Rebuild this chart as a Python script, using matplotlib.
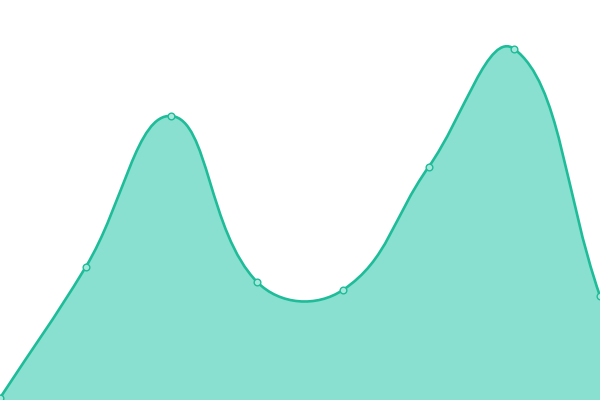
import matplotlib
matplotlib.use("Agg")
import matplotlib.pyplot as plt
import numpy as np
from matplotlib.path import Path
from matplotlib.patches import PathPatch

categories = ["A", "B", "C", "D", "E", "F", "G", "H"]
values = [2, 133, 284, 118, 110, 233, 351, 104]

W, H = 600, 400
fig = plt.figure(figsize=(6, 4), dpi=100)
ax = fig.add_axes([0, 0, 1, 1])
ymax = 400
xs = np.arange(len(values), dtype=float)
ax.set_xlim(0, len(values) - 1)
ax.set_ylim(0, ymax)
ax.axis("off")

# smooth bezier (echarts-like), computed in pixel space
sx = W / (len(values) - 1)
sy = H / ymax
P = np.column_stack([xs * sx, np.array(values, float) * sy])
smooth = 0.42
n = len(P)
cps = []
for i in range(n):
    prev = P[i - 1] if i > 0 else P[i]
    nxt = P[i + 1] if i < n - 1 else P[i]
    v = (nxt - prev) * smooth
    d0 = np.linalg.norm(P[i] - prev)
    d1 = np.linalg.norm(P[i] - nxt)
    s = d0 + d1
    if s:
        d0 /= s
        d1 /= s
    cps.append((P[i] - v * d0, P[i] + v * d1))

verts = [P[0]]
codes = [Path.MOVETO]
for i in range(n - 1):
    verts += [cps[i][1], cps[i + 1][0], P[i + 1]]
    codes += [Path.CURVE4] * 3
verts = np.array(verts)
verts[:, 0] /= sx
verts[:, 1] /= sy

line_path = Path(verts, codes)
fill_verts = np.vstack([verts, [[xs[-1], 0], [xs[0], 0], verts[0]]])
fill_codes = codes + [Path.LINETO, Path.LINETO, Path.CLOSEPOLY]
ax.add_patch(PathPatch(Path(fill_verts, fill_codes), facecolor="#8ae0d0", edgecolor="none", zorder=1))
ax.add_patch(PathPatch(line_path, facecolor="none", edgecolor="#1ebc98", lw=1.9, zorder=2, capstyle="round"))
ax.plot(xs, values, "o", ms=4.8, mfc="#a8e8dc", mec="#1ebc98", mew=1.0, zorder=3, clip_on=False)

fig.savefig("out.png", dpi=100)
